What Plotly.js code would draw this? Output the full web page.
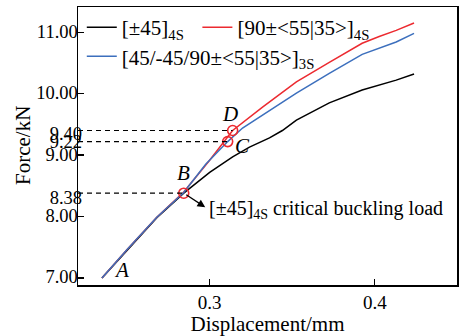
<!DOCTYPE html>
<html>
<head>
<meta charset="utf-8">
<script src="https://cdn.plot.ly/plotly-3.0.1.min.js"></script>
<style>html,body{margin:0;padding:0;background:#fff;}#chart{width:467px;height:336px;}</style>
</head>
<body>
<div id="chart"></div>
<script>
// ---- data ----
const dispBlack  = [0.2348, 0.2499, 0.2680, 0.2843, 0.3000, 0.3139, 0.3241, 0.3362, 0.3440, 0.3525, 0.3724, 0.3923, 0.4129, 0.4237];
const forceBlack = [7.00, 7.45, 7.98, 8.38, 8.72, 8.97, 9.13, 9.28, 9.40, 9.57, 9.85, 10.06, 10.22, 10.32];

const dispRed  = [0.2348, 0.2499, 0.2680, 0.2843, 0.2995, 0.3139, 0.3320, 0.3525, 0.3724, 0.3923, 0.4026, 0.4129, 0.4237];
const forceRed = [7.00, 7.46, 7.99, 8.40, 8.90, 9.40, 9.78, 10.19, 10.51, 10.82, 10.93, 11.03, 11.15];

const dispBlue  = [0.2348, 0.2499, 0.2680, 0.2843, 0.2976, 0.3109, 0.3199, 0.3320, 0.3525, 0.3724, 0.3923, 0.4129, 0.4237];
const forceBlue = [7.00, 7.46, 7.99, 8.39, 8.85, 9.22, 9.44, 9.65, 10.01, 10.33, 10.64, 10.84, 10.98];

const seriesNames = ['[±45]<sub>4S</sub>', '[90±&lt;55|35&gt;]<sub>4S</sub>', '[45/-45/90±&lt;55|35&gt;]<sub>3S</sub>'];

const keyLabels = ['B', 'C', 'D'];
const keyDisp   = [0.2843, 0.3109, 0.3139];
const keyForce  = [8.38, 9.22, 9.40];
const keyTickText = ['8.38', '9.22', '9.40'];

const startLabel = 'A';
const startDisp = 0.2348, startForce = 7.00;

const yTickVals = [7, 8, 9, 10, 11];
const yTickText = ['7.00', '8.00', '9.00', '10.00', '11.00'];
const xTickVals = [0.3, 0.4];
const xTickText = ['0.3', '0.4'];

const xTitle = 'Displacement/mm';
const yTitle = 'Force/kN';
const bucklingText = '[±45]<sub>4S</sub> critical buckling load';

// ---- chart ----
const FONT = 'Liberation Serif';
const xRange = [0.2203, 0.4497];
const yRange = [6.886, 11.41];
const colors = ['#000000', '#ec2a30', '#3c6fbd'];
const legendIds = ['legend', 'legend3', 'legend2'];
const keyAxes = ['y2', 'y3', 'y4'];
const keyLabelShift = [4, 0, 3];
const yLabelStandoff = -5;

const traces = [];
// dashed guide lines (each on its own overlaid y axis carrying its tick label)
keyForce.forEach((f, i) => {
  traces.push({x: [xRange[0], keyDisp[i]], y: [f, f], yaxis: keyAxes[i], mode: 'lines', showlegend: false, hoverinfo: 'skip',
    line: {color: '#000', width: 1.2, dash: '5px,4px'}});
});
const seriesX = [dispBlack, dispRed, dispBlue];
const seriesY = [forceBlack, forceRed, forceBlue];
seriesX.forEach((xs, i) => {
  traces.push({x: xs, y: seriesY[i], name: seriesNames[i], legend: legendIds[i], mode: 'lines',
    line: {color: colors[i], width: 1.5}});
});
traces.push({x: keyDisp, y: keyForce, mode: 'markers', showlegend: false, hoverinfo: 'skip',
  marker: {symbol: 'circle-open', size: 10, color: '#ec2a30', line: {width: 1.6, color: '#ec2a30'}}});

const italic = (t) => '<i>' + t + '</i>';
const labelShift = {B: [0, 20], C: [15, -4], D: [-3, 17]};
const annotations = keyLabels.map((lab, i) => ({
  x: keyDisp[i], y: keyForce[i], text: italic(lab), showarrow: false,
  xshift: labelShift[lab][0], yshift: labelShift[lab][1],
  font: {family: FONT, size: 21, color: '#000'}
}));
annotations.push({x: startDisp, y: startForce, text: italic(startLabel), showarrow: false,
  xshift: 20, yshift: 8, font: {family: FONT, size: 21, color: '#000'}});
// arrow from B to text
annotations.push({x: keyDisp[0], y: keyForce[0], text: '', showarrow: true, ax: 23, ay: 15,
  arrowside: 'start', startarrowhead: 2, startarrowsize: 1.2, arrowwidth: 1.3, arrowcolor: '#000', startstandoff: 0, standoff: 3});
annotations.push({x: keyDisp[0], y: keyForce[0], text: bucklingText, showarrow: false,
  xanchor: 'left', yanchor: 'middle', xshift: 23, yshift: -16,
  font: {family: FONT, size: 20, color: '#000'}});
// y-axis title
annotations.push({xref: 'paper', yref: 'paper', x: 0, y: 0.5, xanchor: 'center', yanchor: 'middle',
  xshift: -55, text: yTitle, textangle: -90, showarrow: false, font: {family: FONT, size: 21, color: '#000'}});

const axisCommon = {showgrid: false, zeroline: false, automargin: false};
const legendCommon = {xanchor: 'left', yanchor: 'top', orientation: 'h', bgcolor: 'rgba(0,0,0,0)',
  font: {family: FONT, size: 21, color: '#000'}};
const layout = {
  width: 467, height: 336,
  margin: {l: 78, r: 10, t: 7, b: 51},
  paper_bgcolor: '#ffffff', plot_bgcolor: '#ffffff',
  font: {family: FONT, size: 18, color: '#000'},
  showlegend: true,
  legend: Object.assign({x: 0.01, y: 1}, legendCommon),
  legend3: Object.assign({x: 0.315, y: 1}, legendCommon),
  legend2: Object.assign({x: 0.01, y: 0.895}, legendCommon),
  xaxis: Object.assign({range: xRange, tickmode: 'array', tickvals: xTickVals, ticktext: xTickText,
    ticks: 'inside', ticklen: 6, tickwidth: 1.2, tickcolor: '#000',
    showline: true, linecolor: '#000', linewidth: 1.5, mirror: true,
    title: {text: xTitle, font: {family: FONT, size: 21}},
    tickfont: {family: FONT, size: 19}}, axisCommon),
  yaxis: Object.assign({range: yRange, tickmode: 'array', tickvals: yTickVals, ticktext: yTickText,
    ticks: 'inside', ticklen: 6, tickwidth: 1.2, tickcolor: '#000', ticklabelshift: -1, ticklabelstandoff: yLabelStandoff,
    showline: true, linecolor: '#000', linewidth: 1.5, mirror: true,
    tickfont: {family: FONT, size: 18.5}}, axisCommon),
  annotations: annotations
};
keyAxes.forEach((ax, i) => {
  layout['yaxis' + ax.slice(1)] = Object.assign({overlaying: 'y', side: 'left', range: yRange,
    tickmode: 'array', tickvals: [keyForce[i]], ticktext: [keyTickText[i]], ticks: '',
    ticklabelshift: keyLabelShift[i], ticklabelstandoff: yLabelStandoff,
    showline: false, tickfont: {family: FONT, size: 18.5}}, axisCommon);
});

Plotly.newPlot('chart', traces, layout, {displayModeBar: false, staticPlot: true});
</script>
</body>
</html>
